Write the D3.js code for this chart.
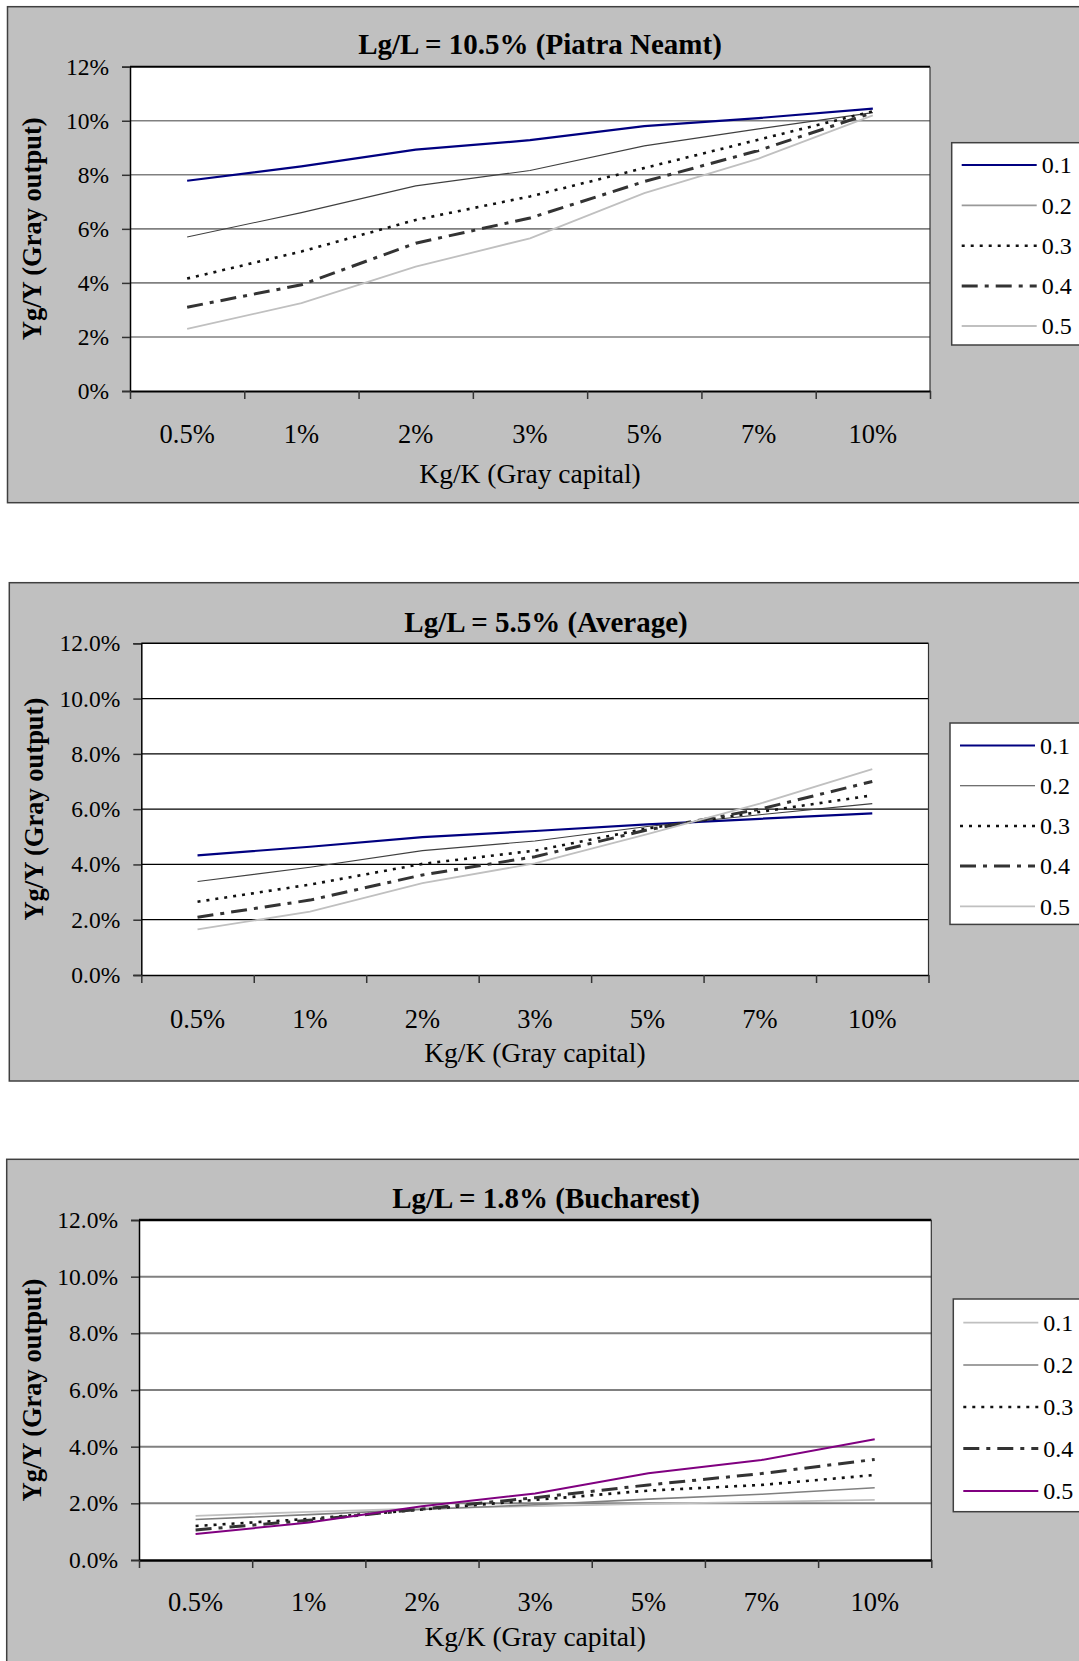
<!DOCTYPE html>
<html><head><meta charset="utf-8">
<script src="https://cdn.jsdelivr.net/npm/d3@7"></script>
<style>body{margin:0;background:#fff}svg{display:block}</style>
</head><body>
<svg id="c" width="1079" height="1661"></svg>
<script>
// ---- data ----
const categories = ["0.5%","1%","2%","3%","5%","7%","10%"];
const seriesNames = ["0.1","0.2","0.3","0.4","0.5"];
const yTicks = [0,0.02,0.04,0.06,0.08,0.10,0.12];
const titles = ["Lg/L = 10.5% (Piatra Neamt)","Lg/L = 5.5% (Average)","Lg/L = 1.8% (Bucharest)"];
const xTitle = "Kg/K (Gray capital)";
const yTitle = "Yg/Y (Gray output)";

const piatra01 = [7.78,8.31,8.93,9.28,9.80,10.10,10.45];
const piatra02 = [5.70,6.60,7.59,8.16,9.07,9.70,10.30];
const piatra03 = [4.16,5.16,6.33,7.20,8.25,9.30,10.35];
const piatra04 = [3.10,3.93,5.47,6.40,7.75,8.90,10.30];
const piatra05 = [2.30,3.25,4.60,5.65,7.32,8.60,10.20];

const avg01 = [4.33,4.64,4.99,5.21,5.45,5.65,5.85];
const avg02 = [3.38,3.90,4.50,4.85,5.37,5.80,6.20];
const avg03 = [2.65,3.27,4.02,4.50,5.30,5.90,6.50];
const avg04 = [2.09,2.71,3.62,4.28,5.25,6.00,7.00];
const avg05 = [1.65,2.29,3.32,4.04,5.10,6.20,7.45];

const buc01 = [1.56,1.70,1.82,1.90,1.98,2.05,2.12];
const buc02 = [1.43,1.60,1.78,1.95,2.15,2.32,2.55];
const buc03 = [1.20,1.45,1.78,2.12,2.45,2.65,3.00];
const buc04 = [1.06,1.40,1.80,2.20,2.65,3.05,3.55];
const buc05 = [0.92,1.32,1.90,2.35,3.06,3.53,4.26];

// ---- styles ----
const S_navy = {stroke:"#000080", w:2.2, dash:null};
const S_thin = {stroke:"#404040", w:1.1, dash:null};
const S_dot  = {stroke:"#111", w:2.6, dash:"3,6"};
const S_dd   = {stroke:"#333", w:3, dash:"16,7,4,7"};
const S_light= {stroke:"#c0c0c0", w:1.8, dash:null};
const S_gray = {stroke:"#808080", w:1.6, dash:null};
const S_purp = {stroke:"#800080", w:2, dash:null};

const panels = [
  {box:[7.5,6.7,1100,496], plot:[130,66.7,930,391], title:titles[0], titleX:540, titleY:44,
   fmt:d3.format(".0%"), xlabY:434, xtitleY:473, yTitleX:32,
   grid:"#808080", gridW:1.6, topW:2,
   legend:[951.7,142.7,345], legY:[165,205.4,245.7,286,326],
   data:[piatra01,piatra02,piatra03,piatra04,piatra05],
   styles:[S_navy,S_thin,S_dot,S_dd,S_light], legStyles:[S_navy,{stroke:"#999",w:1.8},S_dot,S_dd,S_light]},
  {box:[9.3,582.7,1100,498.3], plot:[141.3,643.3,928.5,975], title:titles[1], titleX:546, titleY:621.5,
   fmt:d3.format(".1%"), xlabY:1018.7, xtitleY:1052.5, yTitleX:34,
   grid:"#000", gridW:1.2, topW:1.5,
   legend:[950,723,924.4], legY:[745.5,785.7,826,866,906.4],
   data:[avg01,avg02,avg03,avg04,avg05],
   styles:[S_navy,S_thin,S_dot,S_dd,S_light], legStyles:[S_navy,S_thin,S_dot,S_dd,S_light]},
  {box:[6.7,1159.3,1100,600], plot:[139,1220,931.3,1560], title:titles[2], titleX:546, titleY:1197.6,
   fmt:d3.format(".1%"), xlabY:1602, xtitleY:1636, yTitleX:32,
   grid:"#808080", gridW:2, topW:2.5,
   legend:[953.3,1299,1511.7], legY:[1322.6,1365,1407,1448.6,1491],
   data:[buc01,buc02,buc03,buc04,buc05],
   styles:[S_light,S_gray,S_dot,S_dd,S_purp], legStyles:[S_light,S_gray,S_dot,S_dd,S_purp]}
];

const svg = d3.select("#c");
const FONT = "'Liberation Serif','DejaVu Serif',serif";

panels.forEach(p => {
  const g = svg.append("g");
  const [bx,by,bw,bh] = p.box;
  g.append("rect").attr("x",bx).attr("y",by).attr("width",bw).attr("height",bh)
    .attr("fill","#c0c0c0").attr("stroke","#404040").attr("stroke-width",1.5);
  const [L,T,R,B] = p.plot;
  g.append("rect").attr("x",L).attr("y",T).attr("width",R-L).attr("height",B-T).attr("fill","#fff");

  const y = d3.scaleLinear().domain([0,0.12]).range([B,T]);
  const xi = d3.scaleLinear().domain([0,categories.length]).range([L,R]);
  const xc = d3.scaleBand().domain(categories).range([L,R]);

  // gridlines
  g.append("g").selectAll("line").data(yTicks.slice(1,-1)).join("line")
    .attr("x1",L).attr("x2",R).attr("y1",d=>y(d)).attr("y2",d=>y(d))
    .attr("stroke",p.grid).attr("stroke-width",p.gridW);
  // frame top/right
  g.append("line").attr("x1",L).attr("x2",R).attr("y1",T).attr("y2",T).attr("stroke","#000").attr("stroke-width",p.topW);
  g.append("line").attr("x1",R).attr("x2",R).attr("y1",T).attr("y2",B).attr("stroke","#333").attr("stroke-width",1.2);

  // y axis
  const ya = g.append("g").attr("transform",`translate(${L},0)`)
    .call(d3.axisLeft(y).tickValues(yTicks).tickFormat(p.fmt).tickSize(8).tickPadding(13));
  ya.select(".domain").attr("stroke","#000").attr("stroke-width",1.5);
  ya.selectAll(".tick line").attr("stroke","#333").attr("stroke-width",1.5);
  ya.selectAll("text").attr("font-family",FONT).attr("font-size",23.5).attr("fill","#000");

  // x axis (ticks at category boundaries)
  const xa = g.append("g").attr("transform",`translate(0,${B})`)
    .call(d3.axisBottom(xi).tickValues(d3.range(categories.length+1)).tickFormat("").tickSize(8).tickSizeOuter(0));
  xa.select(".domain").attr("stroke","#000").attr("stroke-width",p.topW);
  xa.selectAll(".tick line").attr("stroke","#333").attr("stroke-width",1.5);
  // category labels
  g.append("g").selectAll("text").data(categories).join("text")
    .attr("x",d=>xc(d)+xc.bandwidth()/2).attr("y",p.xlabY).attr("dy","0.35em")
    .attr("text-anchor","middle").attr("font-family",FONT).attr("font-size",26.5).text(d=>d);

  // titles
  g.append("text").attr("x",p.titleX).attr("y",p.titleY).attr("dy","0.35em").attr("text-anchor","middle")
    .attr("font-family",FONT).attr("font-weight","bold").attr("font-size",29).text(p.title);
  g.append("text").attr("x",(L+R)/2).attr("y",p.xtitleY).attr("dy","0.35em").attr("text-anchor","middle")
    .attr("font-family",FONT).attr("font-size",27.5).text(xTitle);
  g.append("text").attr("transform",`translate(${p.yTitleX},${(T+B)/2}) rotate(-90)`).attr("dy","0.35em")
    .attr("text-anchor","middle").attr("font-family",FONT).attr("font-weight","bold").attr("font-size",26.5).text(yTitle);

  // series
  const line = d3.line().x((d,i)=>xc(categories[i])+xc.bandwidth()/2).y(d=>y(d/100));
  p.data.forEach((arr,k)=>{
    const s = p.styles[k];
    g.append("path").datum(arr).attr("d",line).attr("fill","none")
      .attr("stroke",s.stroke).attr("stroke-width",s.w).attr("stroke-dasharray",s.dash);
  });

  // legend
  const [lx,ly,lb] = p.legend;
  g.append("rect").attr("x",lx).attr("y",ly).attr("width",200).attr("height",lb-ly)
    .attr("fill","#fff").attr("stroke","#404040").attr("stroke-width",1.5);
  seriesNames.forEach((nm,k)=>{
    const s = p.legStyles[k];
    const yy = p.legY[k];
    g.append("line").attr("x1",lx+10).attr("x2",lx+85).attr("y1",yy).attr("y2",yy)
      .attr("stroke",s.stroke).attr("stroke-width",s.w).attr("stroke-dasharray",s.dash||null);
    g.append("text").attr("x",lx+90).attr("y",yy).attr("dy","0.35em").attr("font-family",FONT)
      .attr("font-size",24).text(nm);
  });
});
</script>
</body></html>
